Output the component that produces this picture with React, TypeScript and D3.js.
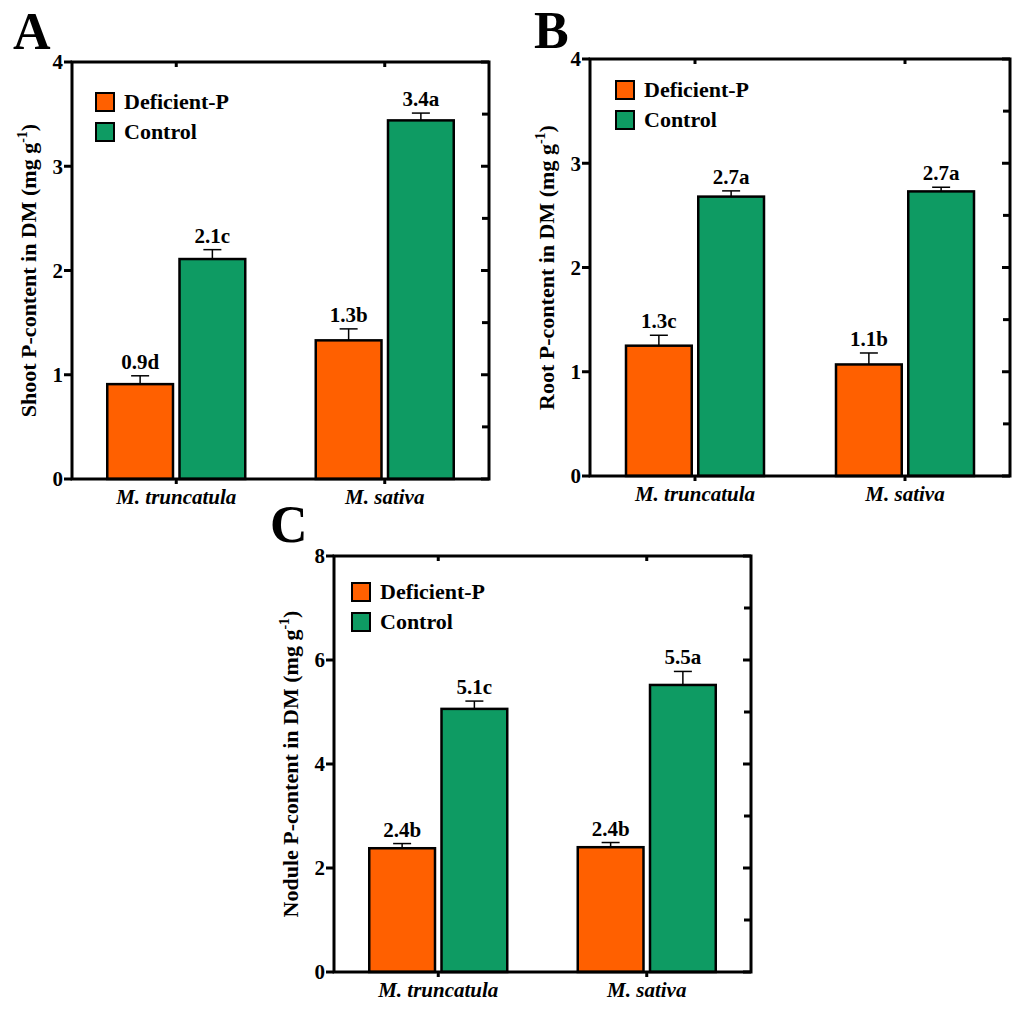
import * as d3 from 'd3';

const species = ['M. truncatula', 'M. sativa'];
const treatments = ['Deficient-P', 'Control'];

// A - shoot
const shootDeficient = [0.91, 1.33];
const shootDeficientErr = [0.08, 0.11];
const shootDeficientLabel = ['0.9d', '1.3b'];
const shootControl = [2.11, 3.44];
const shootControlErr = [0.09, 0.07];
const shootControlLabel = ['2.1c', '3.4a'];

// B - root
const rootDeficient = [1.25, 1.07];
const rootDeficientErr = [0.1, 0.11];
const rootDeficientLabel = ['1.3c', '1.1b'];
const rootControl = [2.68, 2.73];
const rootControlErr = [0.055, 0.04];
const rootControlLabel = ['2.7a', '2.7a'];

// C - nodule
const noduleDeficient = [2.38, 2.4];
const noduleDeficientErr = [0.09, 0.09];
const noduleDeficientLabel = ['2.4b', '2.4b'];
const noduleControl = [5.06, 5.52];
const noduleControlErr = [0.15, 0.26];
const noduleControlLabel = ['5.1c', '5.5a'];

const colors = ['#ff6000', '#0e9b63'];

interface PanelProps {
  letter: string;
  letterPos: [number, number];
  box: { x0: number; x1: number; y0: number; y1: number };
  yMax: number;
  yStep: number;
  title: string;
  legendPos: [number, number];
  means: number[][];
  errs: number[][];
  labels: string[][];
}

function Panel({ letter, letterPos, box, yMax, yStep, title, legendPos, means, errs, labels }: PanelProps) {
  const y = d3.scaleLinear().domain([0, yMax]).range([box.y1, box.y0]);
  const x = d3.scalePoint().domain(species).range([box.x0, box.x1]).padding(0.5);
  const inner = d3.scaleBand().domain(treatments).range([-69, 69]).paddingInner(0.09);
  const majors = d3.range(0, yMax + 0.001, yStep);
  const minors = d3.range(yStep / 2, yMax, yStep);

  return (
    <g>
      <text x={letterPos[0]} y={letterPos[1]} fontSize={52}>{letter}</text>

      {/* bars */}
      {species.map((s, i) =>
        treatments.map((t, j) => {
          const bx = x(s)! + inner(t)!;
          const bw = inner.bandwidth();
          const v = means[j][i];
          const e = errs[j][i];
          const cx = bx + bw / 2;
          return (
            <g key={s + t}>
              <line x1={cx} x2={cx} y1={y(v)} y2={y(v + e)} stroke="#000" strokeWidth={1.5} />
              <line x1={cx - 9} x2={cx + 9} y1={y(v + e)} y2={y(v + e)} stroke="#000" strokeWidth={1.5} />
              <rect x={bx} y={y(v)} width={bw} height={y(0) - y(v)} fill={colors[j]} stroke="#000" strokeWidth={2.5} />
              <text x={cx} y={y(v + e) - 7} fontSize={21} textAnchor="middle">{labels[j][i]}</text>
            </g>
          );
        })
      )}

      {/* frame */}
      <rect x={box.x0} y={box.y0} width={box.x1 - box.x0} height={box.y1 - box.y0} fill="none" stroke="#000" strokeWidth={3} />

      {/* y ticks */}
      {majors.map(d => (
        <g key={'m' + d}>
          <line x1={box.x0 - 8} x2={box.x0} y1={y(d)} y2={y(d)} stroke="#000" strokeWidth={3} />
          <line x1={box.x1 - 8} x2={box.x1} y1={y(d)} y2={y(d)} stroke="#000" strokeWidth={3} />
          <text x={box.x0 - 9} y={y(d)} dy="0.35em" fontSize={21} textAnchor="end">{d}</text>
        </g>
      ))}
      {minors.map(d => (
        <line key={'n' + d} x1={box.x1 - 7} x2={box.x1} y1={y(d)} y2={y(d)} stroke="#000" strokeWidth={3} />
      ))}

      {/* x ticks and labels */}
      {species.map(s => (
        <g key={'x' + s}>
          <line x1={x(s)} x2={x(s)} y1={box.y1} y2={box.y1 + 5} stroke="#000" strokeWidth={3} />
          <line x1={x(s)} x2={x(s)} y1={box.y0} y2={box.y0 + 5} stroke="#000" strokeWidth={3} />
          <text x={x(s)} y={box.y1 + 25} fontSize={21} fontStyle="italic" textAnchor="middle">{s}</text>
        </g>
      ))}

      {/* y title */}
      <text
        transform={`translate(${box.x0 - 36},${(box.y0 + box.y1) / 2}) rotate(-90)`}
        fontSize={22}
        textAnchor="middle"
      >
        {title} (mg g<tspan dy={-9} fontSize={14}>-1</tspan><tspan dy={9}>)</tspan>
      </text>

      {/* legend */}
      {treatments.map((t, j) => (
        <g key={'l' + t} transform={`translate(${legendPos[0]},${legendPos[1] + j * 30})`}>
          <rect x={0} y={0} width={18} height={18} fill={colors[j]} stroke="#000" strokeWidth={2} />
          <text x={28} y={16} fontSize={22}>{t}</text>
        </g>
      ))}
    </g>
  );
}

export default function App() {
  return (
    <svg
      width={1024}
      height={1012}
      style={{
        position: 'absolute',
        left: 0,
        top: 0,
        background: '#fff',
        fontFamily: "'Liberation Serif', 'Times New Roman', 'DejaVu Serif', serif",
        fontWeight: 'bold',
      }}
    >
      <Panel
        letter="A"
        letterPos={[13, 49]}
        box={{ x0: 72, x1: 489, y0: 62, y1: 479 }}
        yMax={4}
        yStep={1}
        title="Shoot P-content in DM"
        legendPos={[96, 93]}
        means={[shootDeficient, shootControl]}
        errs={[shootDeficientErr, shootControlErr]}
        labels={[shootDeficientLabel, shootControlLabel]}
      />
      <Panel
        letter="B"
        letterPos={[534, 48]}
        box={{ x0: 590, x1: 1010, y0: 59, y1: 476 }}
        yMax={4}
        yStep={1}
        title="Root P-content in DM"
        legendPos={[616, 81]}
        means={[rootDeficient, rootControl]}
        errs={[rootDeficientErr, rootControlErr]}
        labels={[rootDeficientLabel, rootControlLabel]}
      />
      <Panel
        letter="C"
        letterPos={[270, 542]}
        box={{ x0: 334, x1: 751, y0: 556, y1: 972 }}
        yMax={8}
        yStep={2}
        title="Nodule P-content in DM"
        legendPos={[352, 583]}
        means={[noduleDeficient, noduleControl]}
        errs={[noduleDeficientErr, noduleControlErr]}
        labels={[noduleDeficientLabel, noduleControlLabel]}
      />
    </svg>
  );
}
